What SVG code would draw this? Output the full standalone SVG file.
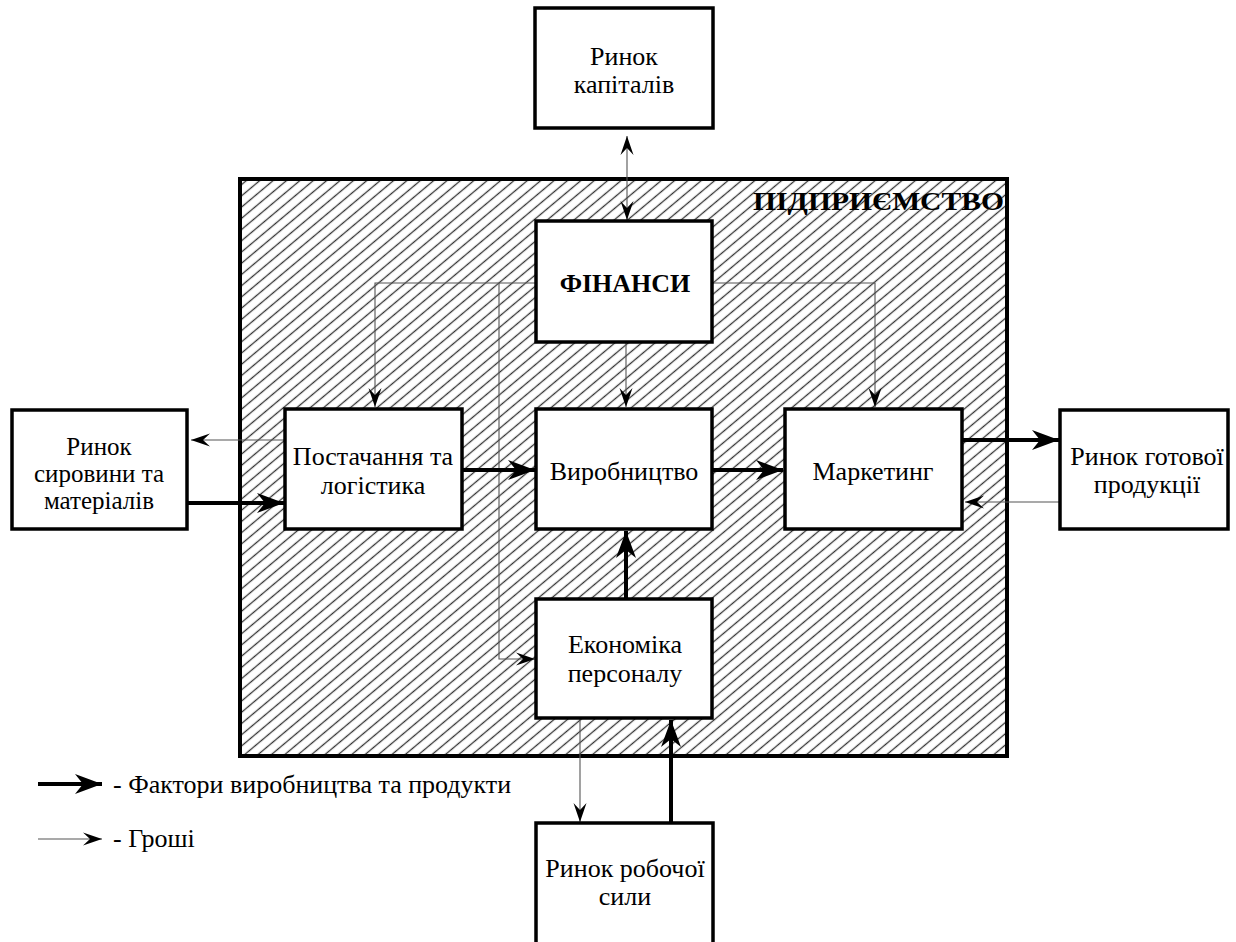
<svg xmlns="http://www.w3.org/2000/svg" width="1236" height="942" viewBox="0 0 1236 942">
<defs>
<pattern id="hatch" patternUnits="userSpaceOnUse" width="20" height="8.6" patternTransform="rotate(-40)">
<line x1="0" y1="4.3" x2="20" y2="4.3" stroke="#333" stroke-width="1.3"/>
</pattern>
<marker id="thick" markerUnits="userSpaceOnUse" viewBox="-28 -11 29 22" refX="0" refY="0" markerWidth="29" markerHeight="22" orient="auto">
<path d="M0,0 L-27,-10 L-19,0 L-27,10 Z" fill="#000"/>
</marker>
<marker id="thin" markerUnits="userSpaceOnUse" viewBox="-20 -8 21 16" refX="0" refY="0" markerWidth="21" markerHeight="16" orient="auto">
<path d="M0,0 L-19,-6.5 L-12,0 L-19,6.5 Z" fill="#000"/>
</marker>
<marker id="thinStart" markerUnits="userSpaceOnUse" viewBox="-20 -8 21 16" refX="0" refY="0" markerWidth="21" markerHeight="16" orient="auto-start-reverse">
<path d="M0,0 L-19,-6.5 L-12,0 L-19,6.5 Z" fill="#000"/>
</marker>
</defs>
<style>
.box{fill:#fff;stroke:#000;stroke-width:3.5}
text{font-family:"Liberation Serif","DejaVu Serif","Times New Roman",serif;font-size:26px;fill:#000;text-anchor:middle}
.b{font-weight:bold}
.s{text-anchor:start}
.e{text-anchor:end}
.sm{font-size:25px}
.thk{stroke:#000;stroke-width:4;fill:none;marker-end:url(#thick)}
.thn{stroke:#555;stroke-width:1.1;fill:none;marker-end:url(#thin)}
</style>
<rect width="1236" height="942" fill="#fff"/>

<g font-family="Liberation Serif, DejaVu Serif, serif">
<g id="enterprise">
<rect x="240" y="179" width="767" height="577" fill="url(#hatch)" stroke="#000" stroke-width="4"/>
<text class="b e" x="1004" y="210" textLength="251" lengthAdjust="spacingAndGlyphs">ПІДПРИЄМСТВО</text>
</g>

<g id="connectors">
<line class="thn" x1="627" y1="220" x2="627" y2="136" style="marker-start:url(#thinStart)"/>
<polyline class="thn" points="536,283 375,283 375,407"/>
<polyline class="thn" points="499,283 499,659 535,659"/>
<polyline class="thn" points="712,283 875,283 875,407"/>
<line class="thn" x1="626" y1="342" x2="626" y2="407"/>
<line class="thn" x1="285" y1="440" x2="191" y2="440"/>
<line class="thn" x1="1060" y1="502" x2="965" y2="502"/>
<line class="thn" x1="580" y1="718" x2="580" y2="822"/>
<line class="thk" x1="187" y1="503" x2="284" y2="503"/>
<line class="thk" x1="462" y1="470" x2="535" y2="470"/>
<line class="thk" x1="712" y1="470" x2="783" y2="470"/>
<line class="thk" x1="962" y1="440" x2="1059" y2="440"/>
<line class="thk" x1="626" y1="598" x2="626" y2="531"/>
<line class="thk" x1="671" y1="823" x2="671" y2="720"/>
</g>

<g id="rynok-kapitaliv">
<rect class="box" x="535" y="8" width="178" height="120"/>
<text x="624" y="65">Ринок</text>
<text x="624" y="93">капіталів</text>
</g>

<g id="finansy">
<rect class="box" x="536" y="221" width="176" height="121"/>
<text class="b" x="625" y="292">ФІНАНСИ</text>
</g>

<g id="postachannia">
<rect class="box" x="285" y="409" width="177" height="120"/>
<text x="373" y="465">Постачання та</text>
<text x="373" y="494">логістика</text>
</g>

<g id="vyrobnytstvo">
<rect class="box" x="536" y="409" width="176" height="120"/>
<text x="624" y="480">Виробництво</text>
</g>

<g id="marketynh">
<rect class="box" x="785" y="409" width="177" height="120"/>
<text x="873" y="480">Маркетинг</text>
</g>

<g id="ekonomika-personalu">
<rect class="box" x="536" y="599" width="176" height="119"/>
<text x="625" y="653">Економіка</text>
<text x="625" y="682">персоналу</text>
</g>

<g id="rynok-syrovyny">
<rect class="box" x="12" y="410" width="175" height="119"/>
<text class="sm" x="99" y="455">Ринок</text>
<text class="sm" x="99" y="482">сировини та</text>
<text class="sm" x="99" y="509">матеріалів</text>
</g>

<g id="rynok-hotovoi">
<rect class="box" x="1060" y="410" width="168" height="119"/>
<text x="1147" y="465">Ринок готової</text>
<text x="1147" y="493">продукції</text>
</g>

<g id="rynok-robochoi">
<rect class="box" x="536" y="823" width="177" height="125"/>
<text x="625" y="877">Ринок робочої</text>
<text x="625" y="905">сили</text>
</g>

<g id="legend">
<line class="thk" x1="38" y1="784" x2="102" y2="784"/>
<text class="s" x="113" y="793">- Фактори виробництва та продукти</text>
<line class="thn" x1="38" y1="839" x2="102" y2="839"/>
<text class="s" x="113" y="847">- Гроші</text>
</g>
</g>
</svg>
